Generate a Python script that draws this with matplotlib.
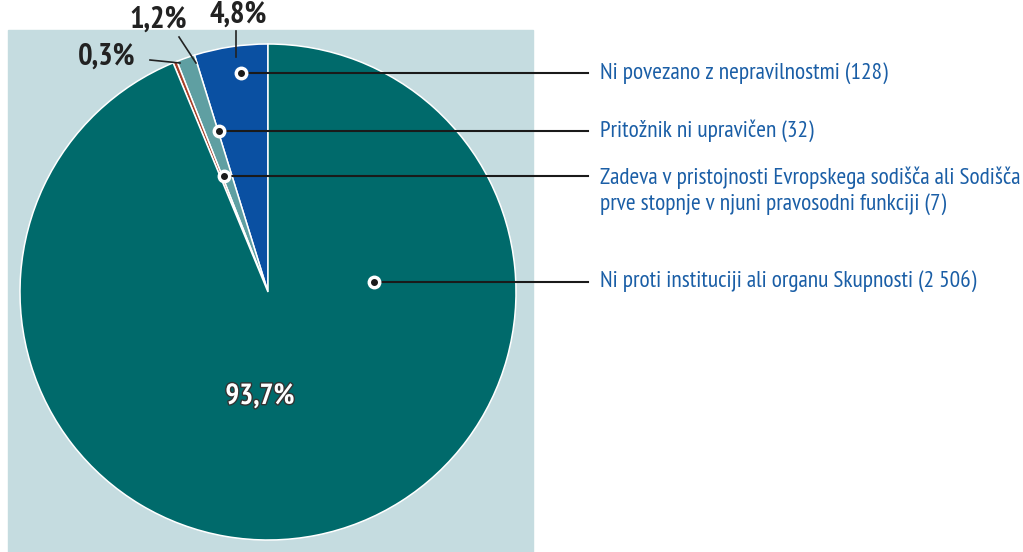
import numpy as np
import matplotlib.pyplot as plt
import matplotlib.patheffects as pe
from matplotlib.patches import Rectangle

# data
categories = [
    'Ni povezano z nepravilnostmi (128)',
    'Pritožnik ni upravičen (32)',
    'Zadeva v pristojnosti Evropskega sodišča ali Sodišča\nprve stopnje v njuni pravosodni funkciji (7)',
    'Ni proti instituciji ali organu Skupnosti (2 506)',
]
counts = [128, 32, 7, 2506]
pct_labels = ['4,8%', '1,2%', '0,3%', '93,7%']
colors = ['#0a50a2', '#5f9fa2', '#a63f28', '#006a6b']

W, H = 1023, 552
fig = plt.figure(figsize=(W / 100, H / 100), dpi=100)
ax = fig.add_axes([0, 0, 1, 1])

font = ['PT Sans Narrow', 'Roboto Condensed', 'DejaVu Sans']
txt_col = '#1a5ea6'

# background panel
ax.add_patch(Rectangle((8, 0), 525, 522, color='#c5dce0', zorder=0))

cx, cy, R = 268, 260, 248
wedges, _ = ax.pie(counts, colors=colors, startangle=90, counterclock=True,
                   center=(cx, cy), radius=R, frame=True,
                   wedgeprops=dict(edgecolor='white', linewidth=1.1))
ax.set_xlim(0, W)
ax.set_ylim(0, H)
ax.set_aspect('equal')
ax.axis('off')

# callout dots and lines
dot_r = [0.89, 0.68, 0.5, 0.43]
dot_ang = [97.0, 106.9, 110.8, 5.4]
line_end = 588
for i, cat in enumerate(categories):
    a = np.deg2rad(dot_ang[i])
    x = cx + dot_r[i] * R * np.cos(a)
    y = cy + dot_r[i] * R * np.sin(a)
    ax.plot([x, line_end], [y, y], color='#1a1a1a', lw=1.5, zorder=3)
    ax.plot(x, y, 'o', ms=9, mfc='white', mec='white', zorder=4)
    ax.plot(x, y, 'o', ms=4, mfc='#1a1a1a', mec='#1a1a1a', zorder=5)
    ty = y - 14.5 if '\n' in cat else y
    ax.text(600, ty, cat, color=txt_col, fontsize=16.8, family=font,
            ha='left', va='center', linespacing=1.25)

# percentage labels with leader lines
lab_pos = [(238, 537), (158, 532), (107, 495)]
leaders = [((235.5, 521), (235.5, 495)), ((179, 515), (196, 489)),
           ((150, 492), (180, 489))]
for i in range(3):
    ax.text(lab_pos[i][0], lab_pos[i][1], pct_labels[i], fontsize=22,
            fontweight='bold', family=font, color='#222222',
            ha='center', va='center')
    (x0, y0), (x1, y1) = leaders[i]
    ax.plot([x0, x1], [y0, y1], color='#222222', lw=1.2, zorder=3)

ax.text(260, 155, pct_labels[3], fontsize=21, fontweight='bold', family=font,
        color='white', ha='center', va='center',
        path_effects=[pe.withStroke(linewidth=2, foreground='#333333')])

fig.savefig('out.png', dpi=100)
